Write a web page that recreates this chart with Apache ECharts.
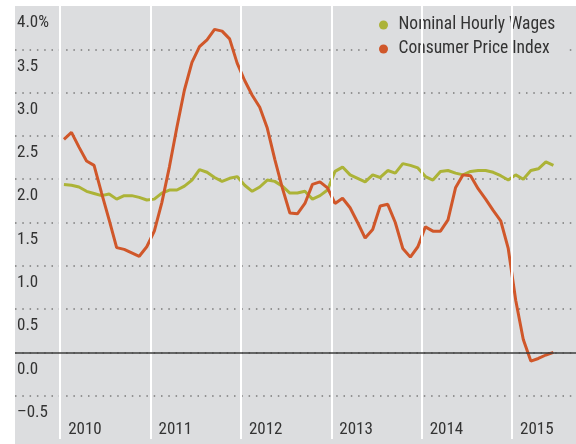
<!DOCTYPE html>
<html><head><meta charset="utf-8">
<script src="https://cdn.jsdelivr.net/npm/echarts@6/dist/echarts.min.js"></script>
<style>html,body{margin:0;padding:0;background:#fff}#c{width:576px;height:444px}</style>
</head><body><div id="c"></div>
<script>
// Tick labels
const years = ['2010', '2011', '2012', '2013', '2014', '2015'];
const seriesNames = ['Nominal Hourly Wages', 'Consumer Price Index'];
// Monthly values, Jan 2010 .. Jun 2015 (%, year over year)
const wages = [1.94, 1.93, 1.91, 1.86, 1.835, 1.81, 1.83, 1.77, 1.81, 1.81, 1.79, 1.76,
               1.77, 1.84, 1.875, 1.875, 1.92, 1.99, 2.11, 2.08, 2.02, 1.975, 2.01, 2.03,
               1.93, 1.86, 1.91, 1.99, 1.975, 1.92, 1.84, 1.84, 1.86, 1.77, 1.81, 1.875,
               2.09, 2.14, 2.05, 2.01, 1.97, 2.05, 2.02, 2.10, 2.07, 2.18, 2.16, 2.13,
               2.03, 1.99, 2.09, 2.10, 2.07, 2.05, 2.09, 2.10, 2.10, 2.08, 2.04, 1.99,
               2.05, 2.00, 2.10, 2.12, 2.20, 2.16];
const cpi = [2.46, 2.54, 2.37, 2.21, 2.16, 1.84, 1.53, 1.21, 1.19, 1.15, 1.11, 1.22,
             1.40, 1.73, 2.14, 2.60, 3.03, 3.35, 3.53, 3.61, 3.73, 3.71, 3.62, 3.34,
             3.14, 2.97, 2.83, 2.59, 2.23, 1.90, 1.61, 1.60, 1.72, 1.94, 1.97, 1.90,
             1.72, 1.78, 1.67, 1.50, 1.32, 1.42, 1.69, 1.71, 1.50, 1.20, 1.10, 1.22,
             1.45, 1.40, 1.40, 1.53, 1.90, 2.05, 2.04, 1.89, 1.77, 1.64, 1.52, 1.20,
             0.60, 0.15, -0.10, -0.07, -0.03, 0.00];

const FONT = "'Roboto Condensed',Roboto,sans-serif";
const FS = 17;
const FS_LEG = 17.5;
const GRAY = '#dcdddf';
const TXT = '#333333';
const C_WAGE = '#acb337';
const C_CPI = '#d0572a';
const toPts = arr => arr.map((v, i) => [i + 0.5, v]);

const chart = echarts.init(document.getElementById('c'), null, {renderer: 'canvas'});
chart.setOption({
  animation: false,
  backgroundColor: GRAY,
  textStyle: {fontFamily: FONT},
  graphic: [
    {type: 'rect', shape: {x: 0, y: 0, width: 576, height: 6}, style: {fill: '#fff'}, z: 100, silent: true},
    {type: 'rect', shape: {x: 0, y: 0, width: 15, height: 444}, style: {fill: '#fff'}, z: 100, silent: true},
    {type: 'rect', shape: {x: 372, y: 8, width: 194, height: 50}, style: {fill: GRAY}, z: 1, silent: true}
  ],
  grid: {left: 15, right: 0, top: 6, bottom: 5, containLabel: false},
  xAxis: {
    type: 'value', min: -6, max: 68.5, interval: 6,
    axisLine: {show: false}, axisTick: {show: false}, splitLine: {show: false},
    axisLabel: {
      inside: true, margin: 1, align: 'left', verticalAlign: 'bottom', padding: [0, 0, 0, 8],
      fontSize: FS, color: TXT, fontFamily: FONT, showMinLabel: false, showMaxLabel: false,
      formatter: v => (v >= 0 && v % 12 === 0 && years[v / 12]) ? years[v / 12] : ''
    }
  },
  yAxis: {
    type: 'value', min: -1, max: 4, interval: 0.5,
    axisLine: {show: false}, axisTick: {show: false},
    splitLine: {show: true, showMinLine: false, showMaxLine: false,
      lineStyle: {color: '#7a7a7a', width: 1.5, type: [1.5, 5.8]}},
    axisLabel: {
      inside: true, margin: 2, align: 'left', verticalAlign: 'top', padding: [8.5, 0, 0, 0],
      fontSize: FS, color: TXT, fontFamily: FONT, showMinLabel: false,
      formatter: v => v === 4 ? '4.0%' : (v < 0 ? '\u2013' + Math.abs(v).toFixed(1) : v.toFixed(1))
    }
  },
  legend: {
    orient: 'vertical', left: 374, top: 11, itemWidth: 20, itemHeight: 9, itemGap: 6,
    icon: 'circle', data: seriesNames,
    textStyle: {fontSize: FS_LEG, color: TXT, fontFamily: FONT}
  },
  series: [
    {type: 'line', data: [], silent: true, z: 2,
      markLine: {silent: true, symbol: 'none', label: {show: false}, animation: false,
        data: years.map((y, i) => ({xAxis: i * 12, lineStyle: {color: '#ffffff', width: 2, type: 'solid'}}))
          .concat([{yAxis: 0, lineStyle: {color: '#3c3c3c', width: 1.5, type: 'solid'}}])}},
    {name: seriesNames[0], type: 'line', data: toPts(wages), showSymbol: false, symbol: 'circle',
      lineStyle: {color: C_WAGE, width: 3}, itemStyle: {color: C_WAGE}, z: 3},
    {name: seriesNames[1], type: 'line', data: toPts(cpi), showSymbol: false, symbol: 'circle',
      lineStyle: {color: C_CPI, width: 3}, itemStyle: {color: C_CPI}, z: 3}
  ]
});
</script></body></html>
